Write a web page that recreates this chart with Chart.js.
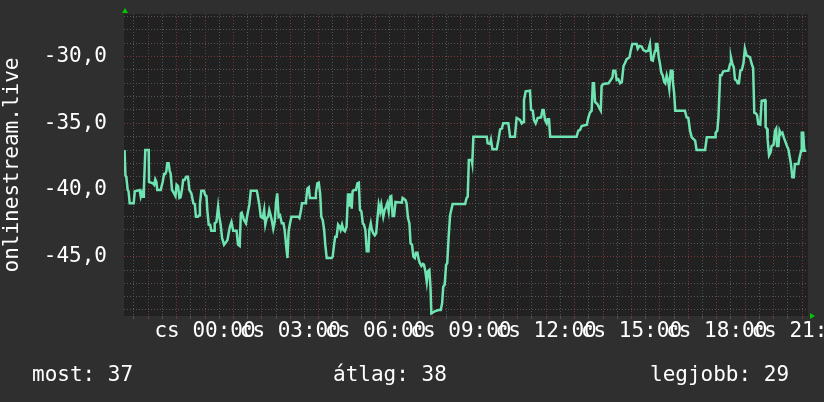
<!DOCTYPE html>
<html>
<head>
<meta charset="utf-8">
<script src="https://cdn.jsdelivr.net/npm/chart.js@4/dist/chart.umd.min.js"></script>
<style>
html, body { margin: 0; padding: 0; background: #2f2f2f; }
#wrap { position: relative; width: 824px; height: 402px; overflow: hidden; }
.foot { position: absolute; top: 364px; font: 21px/20px 'DejaVu Sans Mono', monospace; color: #fff; white-space: pre; }
</style>
</head>
<body>
<div id="wrap">
<canvas id="rank" width="824" height="402"></canvas>
<div class="foot" style="left:32px">most: 37</div>
<div class="foot" style="left:333px">átlag: 38</div>
<div class="foot" style="left:650px">legjobb: 29</div>
</div>
<script>
// Variables (hours from midnight, negative = previous day)
var hours = [
  -2.83,-2.80,-2.77,-2.72,-2.69,-2.65,-2.51,-2.47,-2.30,-2.26,-2.22,-2.18,-2.15,-2.10,-1.98,-1.97,
  -1.83,-1.79,-1.75,-1.71,-1.68,-1.56,-1.49,-1.44,-1.40,-1.36,-1.33,-1.28,-1.24,-1.21,-1.16,-1.09,
  -1.04,-1.00,-0.95,-0.90,-0.86,-0.81,-0.77,-0.72,-0.66,-0.60,-0.55,-0.48,-0.41,-0.36,-0.32,-0.25,
  -0.21,-0.18,-0.13,-0.04,0.01,0.05,0.08,0.13,0.18,0.22,0.32,0.34,0.40,0.46,0.50,0.55,0.60,0.67,
  0.74,0.79,0.83,0.88,0.93,0.99,1.11,1.16,1.22,1.26,1.29,1.37,1.44,1.50,1.56,1.61,1.82,1.84,1.91,
  1.96,2.03,2.08,2.12,2.17,2.22,2.26,2.31,2.36,2.40,2.45,2.50,2.54,2.59,2.64,2.70,2.76,2.80,2.85,
  2.90,2.94,2.99,3.04,3.28,3.32,3.37,3.41,3.53,3.55,3.60,3.65,3.69,3.87,3.90,3.95,4.00,4.05,4.09,
  4.14,4.19,4.23,4.28,4.46,4.49,4.54,4.58,4.63,4.68,4.73,4.77,4.82,4.87,4.92,4.98,5.03,5.08,5.12,
  5.16,5.19,5.24,5.31,5.36,5.41,5.45,5.50,5.55,5.59,5.64,5.69,5.75,5.78,5.83,5.87,5.92,5.97,6.02,
  6.06,6.11,6.16,6.20,6.27,6.32,6.37,6.41,6.46,6.51,6.55,6.60,6.65,6.70,6.92,6.95,7.05,7.09,7.14,
  7.19,7.23,7.28,7.33,7.38,7.42,7.47,7.52,7.56,7.61,7.66,7.70,7.75,7.80,7.84,7.89,7.93,7.96,8.08,
  8.21,8.29,8.34,8.38,8.43,8.48,8.52,8.57,8.62,8.64,8.71,9.15,9.20,9.24,9.28,9.38,9.40,9.44,9.91,
  9.94,10.03,10.06,10.11,10.26,10.32,10.38,10.44,10.49,10.67,10.73,10.90,10.96,11.08,11.14,11.19,
  11.22,11.28,11.43,11.47,11.53,11.57,11.63,11.70,11.82,11.87,11.91,11.96,12.02,12.05,12.10,12.14,
  13.07,13.13,13.19,13.25,13.43,13.48,13.54,13.60,13.64,13.68,13.72,13.80,13.87,13.92,13.95,14.01,
  14.19,14.27,14.33,14.36,14.43,14.48,14.54,14.60,14.66,14.72,14.77,14.83,14.93,14.97,15.03,15.18,
  15.22,15.28,15.36,15.42,15.51,15.59,15.65,15.70,15.75,15.79,15.83,15.86,15.91,15.96,16.00,16.05,
  16.10,16.15,16.19,16.24,16.29,16.33,16.38,16.43,16.45,16.50,16.54,16.88,16.94,17.00,17.06,17.12,
  17.24,17.29,17.59,17.65,17.94,17.96,18.02,18.06,18.12,18.17,18.23,18.41,18.47,18.50,18.55,18.60,
  18.64,18.70,18.74,18.78,18.83,18.88,18.94,18.99,19.05,19.17,19.23,19.28,19.32,19.37,19.42,19.46,
  19.53,19.58,19.70,19.72,19.77,19.79,19.84,19.89,19.93,20.00,20.05,20.09,20.12,20.17,20.21,20.26,
  20.31,20.36,20.40,20.47,20.52,20.57,20.61,20.66,20.71,20.75,20.87,20.92,20.97,20.99,21.04,21.08,
  21.15
]
var values = [
  -37.0,-38.9,-39.0,-40.0,-40.1,-41.0,-41.0,-40.1,-40.0,-40.5,-40.2,-40.5,-39.9,-37.0,-37.0,-39.4,
  -39.5,-39.6,-39.2,-39.4,-40.0,-40.0,-39.4,-38.8,-38.8,-38.6,-38.0,-38.0,-38.6,-38.75,-40.0,-40.25,
  -40.45,-39.6,-39.7,-40.6,-40.55,-39.95,-39.25,-39.25,-39.0,-39.0,-40.0,-40.25,-41.0,-41.05,-42.0,-42.0,
  -41.9,-41.05,-40.05,-40.05,-40.4,-40.45,-41.5,-42.6,-42.6,-43.05,-43.05,-42.5,-42.4,-41.25,-42.0,-42.6,-43.6,-44.1,
  -43.9,-43.75,-43.25,-42.7,-42.4,-43.05,-43.05,-44.1,-44.2,-41.75,-41.7,-42.25,-42.5,-41.75,-41.1,-40.05,-40.05,-40.25,-41.1,
  -42.0,-42.1,-41.5,-42.6,-42.1,-42.0,-41.5,-41.9,-42.4,-42.9,-42.4,-40.9,-40.25,-42.0,-41.9,-42.5,-42.5,-43.0,-44.1,
  -45.1,-43.1,-42.5,-42.0,-42.0,-42.1,-41.6,-41.0,-41.0,-40.9,-39.9,-39.8,-40.6,-40.6,-40.25,-39.5,-39.45,-40.25,-42.0,
  -42.25,-43.0,-44.1,-45.1,-45.1,-45.0,-44.1,-43.5,-43.5,-42.6,-42.75,-43.0,-42.6,-43.0,-43.1,-42.75,-40.25,-41.25,-40.25,
  -41.4,-40.1,-40.0,-40.0,-39.5,-39.45,-41.5,-41.6,-42.5,-42.6,-43.0,-44.6,-44.6,-43.0,-42.5,-43.0,-43.25,-43.4,-43.25,
  -42.25,-41.1,-41.6,-41.1,-42.0,-41.5,-41.25,-41.0,-41.6,-40.5,-40.45,-41.95,-41.95,-40.9,-40.95,-40.6,-40.75,-41.0,-42.1,
  -42.5,-44.0,-44.1,-45.0,-45.1,-44.7,-44.7,-45.25,-45.5,-45.7,-45.55,-45.6,-46.1,-46.9,-46.1,-46.0,-47.25,-49.25,-49.1,
  -49.0,-49.0,-48.5,-47.25,-47.1,-45.6,-45.5,-43.5,-41.9,-41.9,-41.05,-41.05,-40.6,-40.5,-37.75,-37.75,-38.0,-36.0,-36.0,
  -36.5,-36.55,-36.25,-36.95,-36.95,-36.25,-35.45,-35.4,-35.0,-35.0,-36.0,-36.0,-34.6,-34.75,-35.0,-34.9,
  -33.25,-32.6,-32.55,-34.0,-34.05,-34.75,-35.0,-34.6,-34.55,-34.0,-34.0,-34.75,-35.0,-34.7,-34.7,-36.0,
  -36.0,-35.55,-35.5,-35.2,-35.1,-34.6,-34.2,-34.05,-32.0,-32.0,-33.4,-33.55,-33.85,-34.05,-32.2,-32.05,
  -32.0,-31.75,-31.55,-31.05,-31.05,-31.75,-31.7,-32.0,-31.9,-30.7,-30.5,-30.2,-30.05,-29.6,-29.05,-29.05,
  -29.4,-29.2,-29.25,-29.5,-29.6,-29.55,-29.05,-30.25,-30.3,-29.9,-29.55,-29.05,-29.05,-30.05,-30.5,-31.2,
  -31.4,-31.9,-32.0,-31.4,-31.8,-32.4,-31.05,-31.05,-31.75,-32.7,-34.05,-34.05,-34.55,-34.6,-35.55,-36.05,
  -36.3,-37.0,-37.0,-36.05,-36.05,-35.7,-35.55,-34.55,-31.4,-31.4,-31.1,-31.05,-30.55,-30.05,-30.55,-30.8,
  -31.7,-31.8,-32.0,-32.0,-31.05,-31.0,-30.5,-29.4,-29.9,-30.05,-30.55,-30.85,-34.2,-34.25,-34.4,-35.05,
  -35.1,-33.3,-33.25,-35.3,-35.4,-36.2,-37.4,-37.2,-36.7,-36.6,-35.55,-35.4,-36.7,-36.7,-35.55,-35.8,
  -35.7,-36.05,-36.3,-36.7,-36.95,-37.55,-38.05,-39.05,-39.05,-38.05,-38.05,-37.5,-37.05,-35.7,-35.7,-37.05,
  -37.05
]
var xMin = -2.85, xMax = 21.21
var yMin = -49.45, yMax = -26.8
var yTitle = 'onlinestream.live'
var dayPrefix = 'cs'

var FONT = 'DejaVu Sans Mono'
var MINOR = '#555555'
var MAJOR = '#763838'

function isWhole(v) { return Math.abs(v - Math.round(v)) < 1e-6 }

// plot background + green axis arrows
var plotBg = {
    id: 'plotBg',
    beforeDraw: function(chart) {
        var a = chart.chartArea, c = chart.ctx
        c.save()
        c.fillStyle = '#212121'
        c.fillRect(a.left, a.top, a.right - a.left, a.bottom - a.top)
        c.restore()
    }
}
var arrows = {
    id: 'arrows',
    afterDraw: function(chart) {
        var a = chart.chartArea, c = chart.ctx
        c.save()
        c.fillStyle = '#00c800'
        c.beginPath()
        c.moveTo(a.left - 2, a.top - 1)
        c.lineTo(a.left + 4, a.top - 1)
        c.lineTo(a.left + 1, a.top - 6)
        c.closePath()
        c.fill()
        c.beginPath()
        c.moveTo(a.right + 2, a.bottom - 3)
        c.lineTo(a.right + 2, a.bottom + 3)
        c.lineTo(a.right + 7, a.bottom)
        c.closePath()
        c.fill()
        c.restore()
    }
}

var ctx = document.getElementById('rank').getContext('2d')
var lineChart = new Chart(ctx, {
    type: 'line',
    data: {
        datasets: [{
            data: hours.map(function(h, i) { return {x: h, y: values[i]} }),
            borderColor: '#6fe3b2',
            borderWidth: 2.5,
            borderJoinStyle: 'miter',
            pointRadius: 0,
            tension: 0,
            fill: false
        }]
    },
    options: {
        responsive: false,
        animation: false,
        layout: { padding: { left: 0, top: 14, right: 16, bottom: 56 } },
        plugins: { legend: { display: false }, tooltip: { enabled: false } },
        scales: {
            x: {
                type: 'linear', min: xMin, max: xMax,
                afterFit: function(s) { s.height = 30; s.paddingLeft = 0; s.paddingRight = 0 },
                border: { display: false, dash: [1, 2] },
                grid: {
                    color: function(c) { return isWhole(c.tick.value) ? MAJOR : MINOR },
                    drawTicks: true, tickLength: 3
                },
                ticks: {
                    stepSize: 0.5, autoSkip: false, maxRotation: 0, minRotation: 0, includeBounds: false,
                    padding: 0, color: '#fff', font: { family: FONT, size: 21 },
                    callback: function(v) {
                        if (!isWhole(v) || Math.round(v) % 3 !== 0) return ''
                        return dayPrefix + ' ' + String(Math.round(v)).padStart(2, '0') + ':00'
                    }
                }
            },
            y: {
                min: yMin, max: yMax,
                afterFit: function(s) { s.width = 124; s.paddingTop = 0; s.paddingBottom = 0 },
                border: { display: false, dash: [1, 2] },
                grid: {
                    color: function(c) { return Math.round(c.tick.value) % 5 === 0 ? MAJOR : MINOR },
                    drawTicks: false
                },
                ticks: {
                    stepSize: 1, autoSkip: false, includeBounds: false, padding: 17,
                    color: '#fff', font: { family: FONT, size: 21 },
                    callback: function(v) { return Math.round(v) % 5 === 0 ? v.toFixed(1).replace('.', ',') : '' }
                },
                title: { display: true, text: yTitle, color: '#fff', font: { family: FONT, size: 21 }, padding: { top: 0, bottom: 0 } }
            }
        }
    },
    plugins: [plotBg, arrows]
});
</script>
</body>
</html>
